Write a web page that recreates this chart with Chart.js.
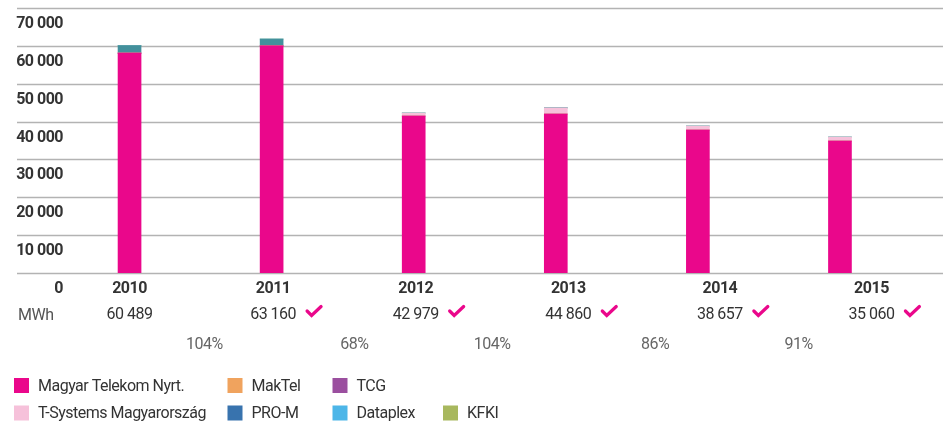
<!DOCTYPE html>
<html>
<head>
<meta charset="utf-8">
<script src="https://cdn.jsdelivr.net/npm/chart.js@4"></script>
<style>
  body { margin: 0; background: #fff; }
  #wrap { width: 943px; height: 424px; }
</style>
</head>
<body>
<div id="wrap"><canvas id="energyChart" width="943" height="424"></canvas></div>
<script>
// adatok
const years = ["2010", "2011", "2012", "2013", "2014", "2015"];
const totalsText = ["60 489", "63 160", "42 979", "44 860", "38 657", "35 060"];
const checked = [false, true, true, true, true, true];
const changeText = ["104%", "68%", "104%", "86%", "91%"];

const magyarTelekom = [58100, 60000, 41470, 42000, 37770, 34870];
const makTel = [0, 0, 0, 0, 0, 0];
const tcg = [0, 0, 0, 0, 0, 0];
const tSystems = [0, 0, 800, 1600, 1050, 1050];
const proM = [2000, 1800, 0, 0, 0, 0];
const dataplex = [0, 0, 0, 0, 0, 0];
const kfki = [0, 0, 0, 0, 0, 0];

const yTicks = [0, 10000, 20000, 30000, 40000, 50000, 60000, 70000];

// a feliratok kicsit el vannak tolva az oszlopokhoz képest
const yearShift = [0, 1.5, 2, 12.5, 22, 31.5];
const pctShift = [3, 10, 0, 11, 3];

const FONT = "Roboto, 'Liberation Sans', sans-serif";
const MAGENTA = "#ea078b";

function fmt(v) {
    return String(v).replace(/\B(?=(\d{3})+(?!\d))/g, " ");
}

// rács, tengelyfeliratok, alsó sorok és jelmagyarázat
const decorations = {
    id: "decorations",
    beforeDatasetsDraw(chart) {
        const ctx = chart.ctx;
        const y = chart.scales.y;
        ctx.save();
        ctx.strokeStyle = "#b3b3b3";
        ctx.lineWidth = 1.5;
        yTicks.forEach(v => {
            const py = Math.round(y.getPixelForValue(v)) + 0.5;
            ctx.beginPath();
            ctx.moveTo(17, py);
            ctx.lineTo(943, py);
            ctx.stroke();
        });
        ctx.restore();
    },
    afterDraw(chart) {
        const ctx = chart.ctx;
        const x = chart.scales.x;
        const y = chart.scales.y;
        ctx.save();
        ctx.textBaseline = "middle";
        ctx.letterSpacing = "-0.5px";

        // y feliratok
        ctx.fillStyle = "#333";
        ctx.font = "bold 16px " + FONT;
        ctx.textAlign = "right";
        yTicks.forEach(v => {
            ctx.fillText(fmt(v), 63, y.getPixelForValue(v) + 16);
        });

        // évek és értékek
        const centers = years.map((_, i) => x.getPixelForValue(i) + yearShift[i]);
        ctx.textAlign = "center";
        years.forEach((yr, i) => {
            ctx.font = "bold 16px " + FONT;
            ctx.fillStyle = "#333";
            ctx.fillText(yr, centers[i], 289);

            ctx.font = "16px " + FONT;
            ctx.fillStyle = "#333";
            ctx.fillText(totalsText[i], centers[i], 315);

            if (checked[i]) {
                const w = ctx.measureText(totalsText[i]).width;
                const cx = centers[i] + w / 2 + 10;
                ctx.strokeStyle = MAGENTA;
                ctx.lineWidth = 3.2;
                ctx.lineCap = "round";
                ctx.beginPath();
                ctx.moveTo(cx + 1, 311);
                ctx.lineTo(cx + 5.5, 315.5);
                ctx.lineTo(cx + 15, 306.5);
                ctx.stroke();
            }
        });

        ctx.textAlign = "left";
        ctx.font = "16px " + FONT;
        ctx.fillStyle = "#555";
        ctx.fillText("MWh", 18, 316);

        // változás százalékban
        ctx.textAlign = "center";
        ctx.fillStyle = "#666";
        changeText.forEach((t, i) => {
            ctx.fillText(t, (centers[i] + centers[i + 1]) / 2 + pctShift[i], 345);
        });

        // jelmagyarázat
        const cols = [14, 227.5, 332.5, 443];
        const rows = [385.5, 413];
        ctx.textAlign = "left";
        ctx.font = "16px " + FONT;
        chart.data.datasets.forEach((ds, i) => {
            const row = i < 3 ? 0 : 1;
            const col = i < 3 ? i : i - 3;
            const lx = cols[col];
            const ly = rows[row];
            ctx.fillStyle = ds.legendColor || ds.backgroundColor;
            ctx.fillRect(lx, ly - 7.5, 15, 15);
            ctx.fillStyle = "#333";
            ctx.fillText(ds.label, lx + 24, ly + 1);
        });
        ctx.restore();
    }
};

const ctx = document.getElementById("energyChart").getContext("2d");
const energyChart = new Chart(ctx, {
    type: "bar",
    data: {
        labels: years,
        datasets: [
            { label: "Magyar Telekom Nyrt.", data: magyarTelekom, backgroundColor: MAGENTA },
            { label: "MakTel", data: makTel, backgroundColor: "#f0a35e" },
            { label: "TCG", data: tcg, backgroundColor: "#9b4f9f" },
            { label: "T-Systems Magyarország", data: tSystems, backgroundColor: "#f6c1da" },
            { label: "PRO-M", data: proM, backgroundColor: "#43909c", legendColor: "#3873ae" },
            { label: "Dataplex", data: dataplex, backgroundColor: "#4db6e8" },
            { label: "KFKI", data: kfki, backgroundColor: "#a8b85e" }
        ]
    },
    options: {
        responsive: false,
        animation: false,
        devicePixelRatio: 1,
        layout: { padding: { left: 58.5, right: 32, top: 8, bottom: 151 } },
        datasets: { bar: { barThickness: 23 } },
        plugins: {
            legend: { display: false },
            tooltip: { enabled: false }
        },
        scales: {
            x: {
                stacked: true,
                display: false
            },
            y: {
                stacked: true,
                display: false,
                min: 0,
                max: 70000
            }
        }
    },
    plugins: [decorations]
});
</script>
</body>
</html>
